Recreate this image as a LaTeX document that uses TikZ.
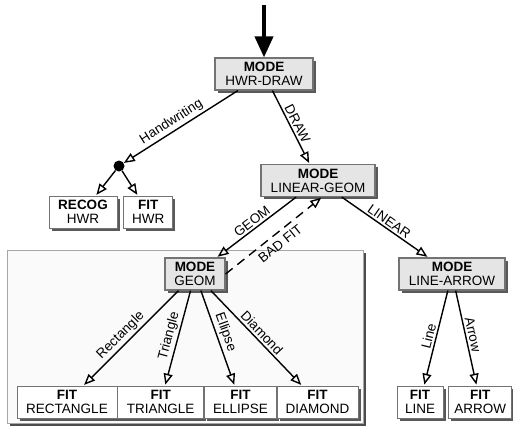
\documentclass[tikz,border=0pt]{standalone}
\usepackage{fontspec}
\setmainfont{Liberation Sans}
\usetikzlibrary{arrows.meta,positioning,shadows}

\begin{document}
\begin{tikzpicture}[x=1pt,y=-1pt,font=\fontsize{13.5}{14}\selectfont]
\tikzstyle{modebox} = [rectangle,draw=black!55,line width=1.2pt,fill=black!10,minimum height=32pt,inner sep=1pt,align=center,drop shadow={shadow xshift=2.5pt,shadow yshift=-2.5pt,fill=black!65,opacity=1}]
\tikzstyle{fitbox} = [rectangle,draw=black!55,line width=0.7pt,fill=white,minimum height=32pt,inner sep=1pt,align=center,drop shadow={shadow xshift=2.5pt,shadow yshift=-2.5pt,fill=black!65,opacity=1}]
\tikzstyle{groupbox} = [rectangle,draw=black!35,line width=0.8pt,fill=black!2,inner sep=0pt,drop shadow={shadow xshift=2.5pt,shadow yshift=-2.5pt,fill=black!70,opacity=1}]
\tikzstyle{arr} = [draw=black,line width=1.4pt,-{Triangle[open,length=11pt,width=9pt]},shorten >=1pt]
\tikzstyle{lbl} = [midway,sloped,above,inner sep=2pt]

\useasboundingbox (0,0) rectangle (513,434);

\node[groupbox](geomgroup) at (7,250) [anchor=north west,minimum width=356pt,minimum height=173pt] {};

\node[modebox](hwrdraw) at (264,74) [minimum width=98pt] {\textbf{MODE}\\HWR-DRAW};
\node[circle,fill=black,inner sep=0pt,minimum size=11pt](split) at (119,166) {};
\node[fitbox](recog) at (83,212) [minimum width=68pt] {\textbf{RECOG}\\HWR};
\node[fitbox](fithwr)[right=6pt of recog][minimum width=49pt] {\textbf{FIT}\\HWR};
\node[modebox](lineargeom) at (318,180.5) [minimum width=114pt] {\textbf{MODE}\\LINEAR-GEOM};
\node[modebox](geom) at (195,274) [minimum width=60pt] {\textbf{MODE}\\GEOM};
\node[modebox](linearrow) at (452,274) [minimum width=106pt] {\textbf{MODE}\\LINE-ARROW};

\node[fitbox](fitrect) at (67,402) [minimum width=100pt] {\textbf{FIT}\\RECTANGLE};
\node[fitbox](fittri)[right=0pt of fitrect][minimum width=86pt] {\textbf{FIT}\\TRIANGLE};
\node[fitbox](fitell)[right=0pt of fittri][minimum width=72pt] {\textbf{FIT}\\ELLIPSE};
\node[fitbox](fitdia)[right=0pt of fitell][minimum width=81pt] {\textbf{FIT}\\DIAMOND};
\node[fitbox](fitline) at (420,402) [minimum width=46pt] {\textbf{FIT}\\LINE};
\node[fitbox](fitarrow)[right=5pt of fitline][minimum width=63pt] {\textbf{FIT}\\ARROW};

\coordinate (entry) at (264,5);
\draw [line width=4pt,-{Triangle[length=21pt,width=18pt]}] (entry) -- (hwrdraw);

\draw [arr,shorten >=0pt] (hwrdraw) -- (split) node [lbl,pos=0.54] {Handwriting};
\draw [arr] (split) -- (recog);
\draw [arr] (split) -- (fithwr);
\draw [arr] (hwrdraw) -- (lineargeom) node [lbl] {DRAW};

\draw [arr] (lineargeom) -- (geom) node [lbl] {GEOM};
\draw [arr] (lineargeom) -- (linearrow) node [lbl] {LINEAR};
\draw [arr,dashed,dash pattern=on 9pt off 6pt] (geom.east) -- ([xshift=4pt]lineargeom.south) node [midway,sloped,below,inner sep=5pt] {BAD FIT};

\draw [arr] (geom) -- (fitrect) node [lbl,pos=0.54] {Rectangle};
\draw [arr] (geom) -- (fittri) node [lbl] {Triangle};
\draw [arr] (geom) -- (fitell) node [lbl,pos=0.47] {Ellipse};
\draw [arr] (geom) -- (fitdia) node [lbl] {Diamond};

\draw [arr] (linearrow) -- (fitline) node [lbl] {Line};
\draw [arr] (linearrow) -- (fitarrow) node [lbl,pos=0.48] {Arrow};

\end{tikzpicture}
\end{document}
